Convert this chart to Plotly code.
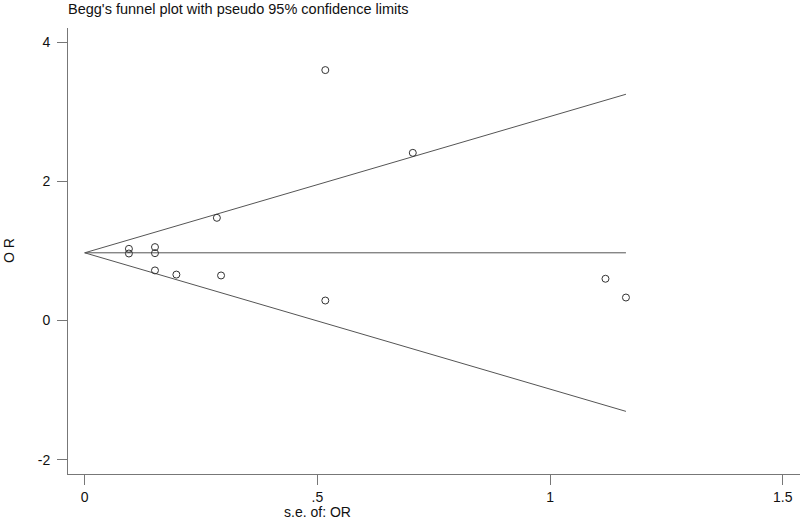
import plotly.graph_objects as go

# Study data (standard error of OR, OR)
se = [0.095, 0.095, 0.151, 0.151, 0.151, 0.197, 0.284, 0.293, 0.517, 0.517, 0.705, 1.119, 1.163]
odds = [1.03, 0.963, 1.055, 0.968, 0.72, 0.66, 1.476, 0.647, 3.60, 0.287, 2.41, 0.60, 0.33]
theta = 0.973  # pooled estimate
z = 1.96

x_ticks = [0, 0.5, 1, 1.5]
x_ticklabels = ["0", ".5", "1", "1.5"]
y_ticks = [-2, 0, 2, 4]
y_ticklabels = ["-2", "0", "2", "4"]

se_max = max(se)
line_color = "#555555"
axis_color = "#777777"

fig = go.Figure()
# pseudo 95% confidence limits
fig.add_trace(go.Scatter(x=[0, se_max], y=[theta + z * 0, theta + z * se_max], mode="lines",
                         line=dict(color=line_color, width=1), hoverinfo="skip"))
fig.add_trace(go.Scatter(x=[0, se_max], y=[theta, theta], mode="lines",
                         line=dict(color=line_color, width=1), hoverinfo="skip"))
fig.add_trace(go.Scatter(x=[0, se_max], y=[theta - z * 0, theta - z * se_max], mode="lines",
                         line=dict(color=line_color, width=1), hoverinfo="skip"))
fig.add_trace(go.Scatter(x=se, y=odds, mode="markers",
                         marker=dict(symbol="circle-open", size=7, color="#333333", line=dict(width=1))))

font_family = "Liberation Sans, Arial, sans-serif"
fig.update_layout(
    width=800, height=520,
    margin=dict(l=68, r=0, t=28, b=46),
    paper_bgcolor="white", plot_bgcolor="white",
    showlegend=False,
    font=dict(family=font_family, size=14, color="#111111"),
    title=dict(text="Begg's funnel plot with pseudo 95% confidence limits",
               x=68 / 800, xref="container", xanchor="left",
               y=1 - 8.5 / 520, yref="container", yanchor="middle",
               font=dict(size=14.5, family=font_family, color="#111111")),
    xaxis=dict(range=[-0.0359, 1.537], tickvals=x_ticks, ticktext=x_ticklabels,
               showgrid=False, zeroline=False, showline=True, linecolor=axis_color, linewidth=1,
               ticks="outside", ticklen=10, tickcolor=axis_color, tickwidth=1,
               automargin=False, tickfont=dict(size=14)),
    yaxis=dict(range=[-2.207, 4.205], tickvals=y_ticks, ticktext=y_ticklabels,
               showgrid=False, zeroline=False, showline=True, linecolor=axis_color, linewidth=1,
               ticks="outside", ticklen=10, tickcolor=axis_color, tickwidth=1,
               automargin=False, tickfont=dict(size=14), ticklabelstandoff=4),
    annotations=[
        dict(text="s.e. of: OR", xref="x", yref="paper", x=0.5, y=0, yshift=-38,
             xanchor="center", yanchor="middle", showarrow=False, font=dict(size=14)),
        dict(text="O R", xref="paper", yref="paper", x=0, y=0.5, xshift=-59,
             xanchor="center", yanchor="middle", showarrow=False, textangle=-90,
             font=dict(size=14)),
    ],
)

fig.write_html("out.html", config={"displayModeBar": False},
               post_script="document.body.style.margin='0';")
